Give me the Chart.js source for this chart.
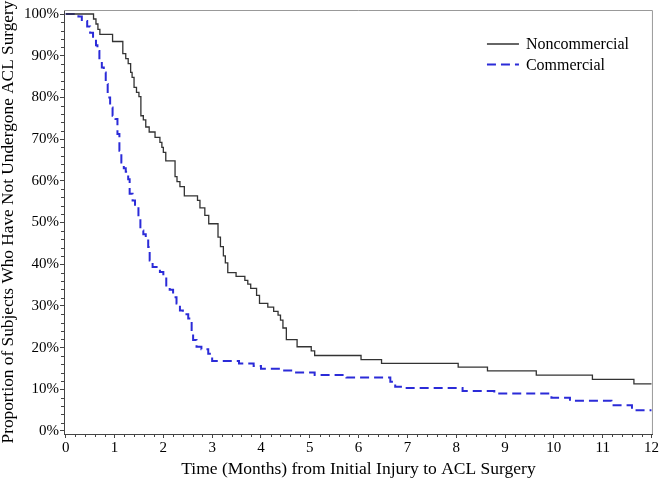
<!DOCTYPE html>
<html><head><meta charset="utf-8">
<script src="https://cdn.jsdelivr.net/npm/chart.js@4/dist/chart.umd.min.js"></script>
<style>html,body{margin:0;padding:0;background:#fff}#wrap{width:660px;height:482px}</style>
</head><body><div id="wrap"><canvas id="c" width="660" height="482"></canvas></div>
<script>
const seriesNames = ['Noncommercial', 'Commercial'];
const xTitle = 'Time (Months) from Initial Injury to ACL Surgery';
const yTitle = 'Proportion of Subjects Who Have Not Undergone ACL Surgery';
const xTickValues = [0,1,2,3,4,5,6,7,8,9,10,11,12];
const xTickLabels = ['0','1','2','3','4','5','6','7','8','9','10','11','12'];
const yTickValues = [0,10,20,30,40,50,60,70,80,90,100];
const yTickLabels = ['0%','10%','20%','30%','40%','50%','60%','70%','80%','90%','100%'];

const nonTimes = [0,0.57,0.62,0.66,0.70,0.96,1.17,1.23,1.28,1.33,1.36,1.40,1.45,1.50,1.54,1.59,1.64,1.71,1.83,1.93,1.97,2.00,2.05,2.24,2.28,2.34,2.43,2.70,2.75,2.85,2.93,3.12,3.17,3.23,3.27,3.32,3.49,3.67,3.73,3.79,3.91,3.97,4.14,4.26,4.35,4.40,4.45,4.52,4.74,5.03,5.10,6.05,6.47,8.04,8.64,9.64,10.79,11.64,12];
const nonValues = [100,98.8,97.6,96.3,95.1,93.4,90.5,89.3,88.1,86.0,84.8,82.4,81.2,80.2,75.6,74.6,72.9,71.7,70.4,69.2,68.0,66.8,64.8,61.0,59.8,58.6,56.4,55.3,53.5,51.7,49.7,46.5,44.2,42.0,40.3,38.0,37.1,36.1,35.2,34.2,32.5,30.6,29.7,28.7,27.8,26.6,24.7,21.9,20.2,19.2,18.1,17.1,16.2,15.3,14.4,13.4,12.4,11.3,11.3];

const comTimes = [0,0.26,0.33,0.44,0.50,0.56,0.62,0.65,0.69,0.74,0.78,0.82,0.86,0.91,0.96,1.02,1.06,1.10,1.14,1.19,1.23,1.28,1.31,1.37,1.42,1.49,1.53,1.59,1.64,1.69,1.72,1.78,1.93,2.00,2.06,2.13,2.20,2.27,2.34,2.40,2.51,2.58,2.61,2.68,2.78,2.92,3.00,3.55,3.85,4.00,4.40,4.65,5.10,5.75,6.65,6.75,6.90,8.13,8.78,9.95,10.33,11.18,11.60,12];
const comValues = [100,99.4,98.3,97.0,95.5,93.9,92.5,91.1,88.8,87.2,86.0,83.2,80.0,77.6,75.6,74.8,71.2,67.2,64.4,63.0,62.2,60.4,56.9,55.3,53.7,51.3,48.1,47.2,46.2,44.1,40.9,39.3,38.1,36.9,34.9,33.9,32.1,30.6,28.9,28.0,27.0,24.2,21.8,20.2,19.6,18.5,16.8,16.2,15.6,14.9,14.5,14.0,13.4,12.8,11.8,10.6,10.3,9.6,9.0,8.0,7.25,6.2,5.0,5.0];

const FONT = '"Liberation Serif", "Times New Roman", serif';

const framePlugin = {
  id: 'frame',
  afterDraw(chart) {
    const {ctx, chartArea: a} = chart;
    ctx.save();
    ctx.strokeStyle = '#999';
    ctx.lineWidth = 1;
    ctx.beginPath();
    ctx.moveTo(a.left, a.top + 0.5);
    ctx.lineTo(a.right - 0.5, a.top + 0.5);
    ctx.lineTo(a.right - 0.5, a.bottom);
    ctx.stroke();
    ctx.restore();
  }
};

const minorTicks = {
  id: 'minorTicks',
  afterDraw(chart) {
    const {ctx, chartArea: a, scales} = chart;
    ctx.save();
    ctx.strokeStyle = '#444';
    ctx.lineWidth = 1;
    ctx.beginPath();
    for (let i = 0; i <= 60; i++) {
      if (i % 5 === 0) continue;
      const px = Math.round(scales.x.getPixelForValue(i / 5)) + 0.5;
      ctx.moveTo(px, a.bottom); ctx.lineTo(px, a.bottom + 3);
    }
    for (let v = 0; v <= 100; v += 2) {
      if (v % 10 === 0) continue;
      const py = Math.round(scales.y.getPixelForValue(v)) + 0.5;
      ctx.moveTo(a.left - 3, py); ctx.lineTo(a.left, py);
    }
    ctx.stroke();
    ctx.restore();
  }
};

const legendPlugin = {
  id: 'kmLegend',
  afterDraw(chart) {
    const {ctx, chartArea: a} = chart;
    chart.data.datasets.forEach((ds, i) => {
      const y = a.top + 34 + i * 20.6;
      const x0 = a.right - 166;
      ctx.save();
      ctx.strokeStyle = ds.borderColor;
      ctx.lineWidth = ds.borderWidth;
      ctx.setLineDash(ds.borderDash || []);
      ctx.beginPath(); ctx.moveTo(x0, y); ctx.lineTo(x0 + 32, y); ctx.stroke();
      ctx.setLineDash([]);
      ctx.fillStyle = '#000';
      ctx.font = '16px ' + FONT;
      ctx.textBaseline = 'middle';
      ctx.fillText(ds.label, x0 + 39, y + 1);
      ctx.restore();
    });
  }
};

new Chart(document.getElementById('c'), {
  type: 'line',
  data: {
    datasets: [
      { label: seriesNames[0], data: nonTimes.map((t, i) => ({x: t, y: nonValues[i]})),
        stepped: true, borderColor: '#333333', borderWidth: 1.3, pointRadius: 0, fill: false },
      { label: seriesNames[1], data: comTimes.map((t, i) => ({x: t, y: comValues[i]})),
        stepped: true, borderColor: '#2b2bd8', borderWidth: 2, borderDash: [9, 5], pointRadius: 0, fill: false }
    ]
  },
  options: {
    responsive: false, animation: false, devicePixelRatio: 1,
    layout: { padding: { top: 9, right: 6, left: 0, bottom: 0 } },
    plugins: { legend: { display: false }, tooltip: { enabled: false } },
    scales: {
      x: {
        type: 'linear', min: -0.035, max: 12.03,
        afterBuildTicks: s => { s.ticks = xTickValues.map(v => ({value: v})); },
        afterFit: s => { s.height = 48; },
        ticks: { callback: (v, i) => xTickLabels[i], color: '#000', font: { family: FONT, size: 15 }, padding: 1, autoSkip: false, maxRotation: 0 },
        grid: { drawOnChartArea: false, tickLength: 4, color: '#444' },
        border: { color: '#444' },
        title: { display: true, text: xTitle, color: '#000', font: { family: FONT, size: 17.5, lineHeight: 1.2 }, padding: { top: 0, bottom: 2 } }
      },
      y: {
        min: -0.72, max: 100.96,
        afterBuildTicks: s => { s.ticks = yTickValues.map(v => ({value: v})); },
        afterFit: s => { s.width = 64; },
        ticks: { callback: (v, i) => yTickLabels[i], color: '#000', font: { family: FONT, size: 15 }, padding: 1 },
        grid: { drawOnChartArea: false, tickLength: 4, color: '#444' },
        border: { color: '#444' },
        title: { display: true, text: yTitle, color: '#000', font: { family: FONT, size: 17.3, lineHeight: 1 }, padding: 0 }
      }
    }
  },
  plugins: [framePlugin, minorTicks, legendPlugin]
});
</script></body></html>
